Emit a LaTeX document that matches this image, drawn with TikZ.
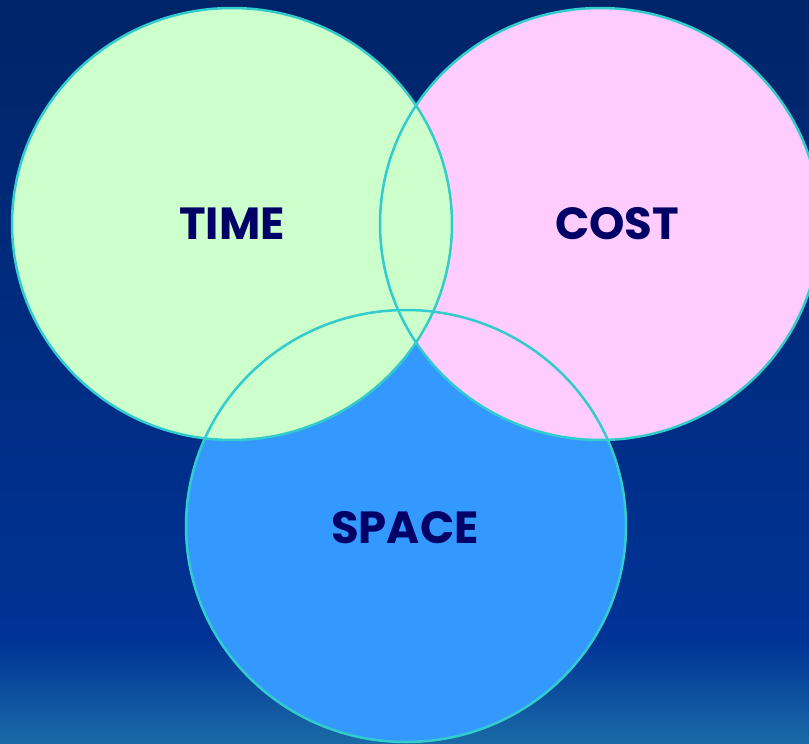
\documentclass[tikz,border=0pt]{standalone}
\usepackage{fontspec}
\setmainfont{Poppins}
\definecolor{bgtop}{RGB}{0,36,104}
\definecolor{bgmid}{RGB}{0,51,150}
\definecolor{bgbot}{RGB}{26,106,166}
\definecolor{timecol}{RGB}{204,255,204}
\definecolor{costcol}{RGB}{255,204,255}
\definecolor{spacecol}{RGB}{51,153,255}
\definecolor{ringcol}{RGB}{51,204,204}
\definecolor{lblcol}{RGB}{0,0,102}
\begin{document}
\begin{tikzpicture}[x=1pt, y=-1pt,
  ring/.style={draw=ringcol, line width=2.5pt},
  lbl/.style={text=lblcol, font=\bfseries\fontsize{45}{45}\selectfont}]
\useasboundingbox (0,0) rectangle (809,744);
% background
\shade[top color=bgtop, bottom color=bgmid] (0,0) rectangle (809,640);
\shade[top color=bgmid, bottom color=bgbot] (0,639) rectangle (809,744);
% circles, fills first and rings on top
\fill[spacecol] (406,526) ellipse [x radius=220, y radius=216];
\fill[costcol] (600,224) ellipse [x radius=220, y radius=216];
\fill[timecol] (232,224) ellipse [x radius=220, y radius=216];
\foreach \cx/\cy in {406/526, 600/224, 232/224}
  \draw[ring] (\cx,\cy) ellipse [x radius=220, y radius=216];
% labels
\node[lbl] (time) at (232,224) {TIME};
\node[lbl] (cost) at (617,224) {COST};
\node[lbl] (space) at (405,528) {SPACE};
\end{tikzpicture}
\end{document}
